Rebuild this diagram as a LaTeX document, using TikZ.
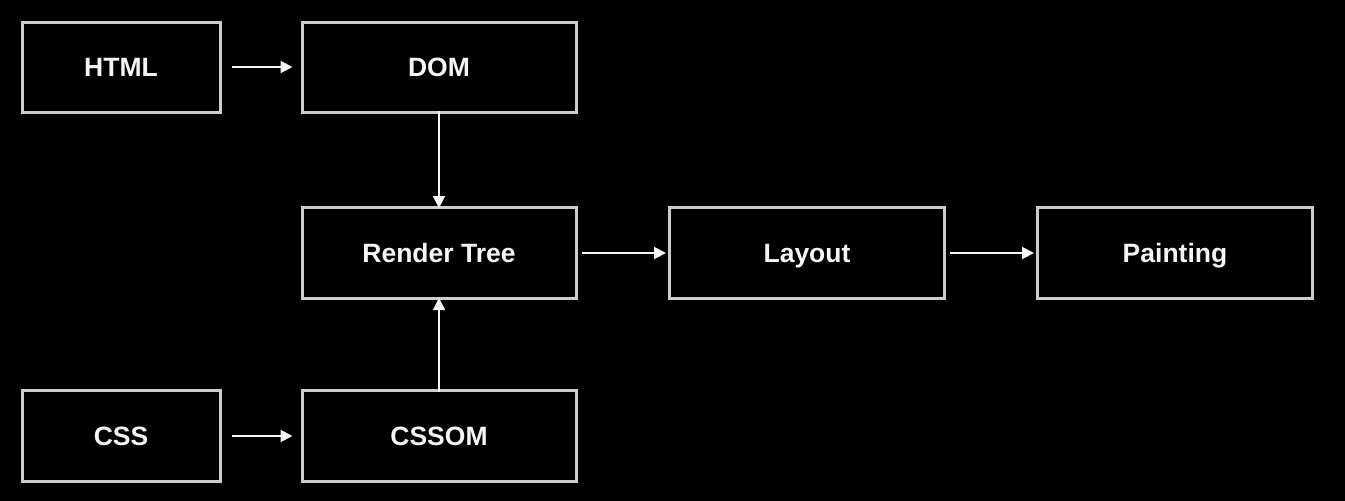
\documentclass[tikz,border=0pt]{standalone}
\usepackage{fontspec}
\setmainfont{Liberation Sans}
\usetikzlibrary{arrows.meta}
\definecolor{boxline}{RGB}{205,205,205}
\definecolor{txt}{RGB}{245,245,245}
\begin{document}
\begin{tikzpicture}[x=1pt,y=-1pt,
  stagebox/.style={draw=boxline,line width=3pt,fill=black,text=txt,
    font=\fontsize{26.5}{30}\selectfont\bfseries,inner sep=0pt,
    text height=19pt,text depth=0pt},
  flow/.style={draw=txt,line width=2pt,-{Triangle[length=12pt,width=12pt]}}]
\fill[black] (0,0) rectangle (1345,501);
\useasboundingbox (0,0) rectangle (1345,501);
\node[stagebox,minimum width=198pt,minimum height=90pt] (html) at (121,67) {HTML};
\node[stagebox,minimum width=274pt,minimum height=90pt] (dom) at (439,67) {DOM};
\node[stagebox,minimum width=274pt,minimum height=91pt] (render) at (439,253) {Render Tree};
\node[stagebox,minimum width=275pt,minimum height=91pt] (layout) at (807,253) {Layout};
\node[stagebox,minimum width=275pt,minimum height=91pt] (paint) at (1175,253) {Painting};
\node[stagebox,minimum width=198pt,minimum height=91pt] (css) at (121,436) {CSS};
\node[stagebox,minimum width=274pt,minimum height=91pt] (cssom) at (439,436) {CSSOM};
\draw[flow] ([xshift=10pt]html.east) -- ([xshift=-8pt]dom.west);
\draw[flow] ([xshift=10pt]css.east) -- ([xshift=-8pt]cssom.west);
\draw[flow] ([yshift=3pt]dom.south) -- ([yshift=-2pt]render.north);
\draw[flow] ([yshift=-3pt]cssom.north) -- ([yshift=2pt]render.south);
\draw[flow] ([xshift=4pt]render.east) -- ([xshift=-2pt]layout.west);
\draw[flow] ([xshift=4pt]layout.east) -- ([xshift=-2pt]paint.west);
\end{tikzpicture}
\end{document}
